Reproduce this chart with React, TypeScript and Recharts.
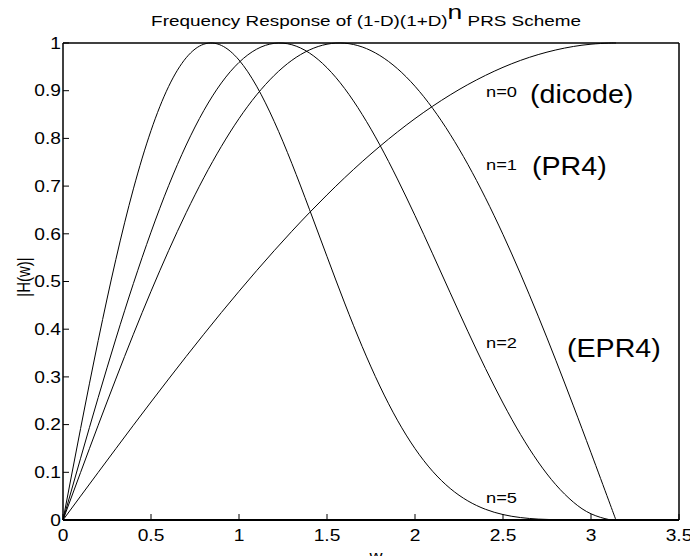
import React from 'react';
import { LineChart, Line, XAxis, YAxis } from 'recharts';

// frequency samples (rad), last point is pi
const wValues = [0, 0.1, 0.2, 0.3, 0.4, 0.5, 0.6, 0.7, 0.8, 0.9, 1.0, 1.1, 1.2, 1.3, 1.4, 1.5, 1.6,
  1.7, 1.8, 1.9, 2.0, 2.1, 2.2, 2.3, 2.4, 2.5, 2.6, 2.7, 2.8, 2.9, 3.0, 3.1, 3.1416];

// normalised |H(w)|
const n0Values = [0, 0.05, 0.0998, 0.1494, 0.1987, 0.2474, 0.2955, 0.3429, 0.3894, 0.435, 0.4794,
  0.5227, 0.5646, 0.6052, 0.6442, 0.6816, 0.7174, 0.7513, 0.7833, 0.8134, 0.8415, 0.8674, 0.8912,
  0.9128, 0.932, 0.949, 0.9636, 0.9757, 0.9854, 0.9927, 0.9975, 0.9998, 1];
const n1Values = [0, 0.0998, 0.1987, 0.2955, 0.3894, 0.4794, 0.5646, 0.6442, 0.7174, 0.7833, 0.8415,
  0.8912, 0.932, 0.9636, 0.9854, 0.9975, 0.9996, 0.9917, 0.9738, 0.9463, 0.9093, 0.8632, 0.8085,
  0.7457, 0.6755, 0.5985, 0.5155, 0.4274, 0.335, 0.2392, 0.1411, 0.0416, 0];
const n2Values = [0, 0.1295, 0.2568, 0.3796, 0.4958, 0.6034, 0.7008, 0.7861, 0.8583, 0.9163, 0.9593,
  0.987, 0.9993, 0.9964, 0.9791, 0.9481, 0.9047, 0.8502, 0.7864, 0.715, 0.6382, 0.558, 0.4764,
  0.3957, 0.318, 0.2452, 0.1791, 0.1216, 0.074, 0.0374, 0.013, 0.0011, 0];
const n5Values = [0, 0.1919, 0.3762, 0.5458, 0.6942, 0.8163, 0.9087, 0.9691, 0.9975, 0.9949, 0.9643,
  0.9095, 0.8355, 0.7477, 0.6515, 0.5524, 0.455, 0.3635, 0.2809, 0.2093, 0.1497, 0.1022, 0.0661,
  0.0401, 0.0225, 0.0114, 0.0051, 0.0019, 0.0005, 0.0001, 0, 0, 0];

const xTicks = [0, 0.5, 1, 1.5, 2, 2.5, 3, 3.5];
const yTicks = [0, 0.1, 0.2, 0.3, 0.4, 0.5, 0.6, 0.7, 0.8, 0.9, 1];

const data = wValues.map((w, i) => ({
  w,
  n0: n0Values[i],
  n1: n1Values[i],
  n2: n2Values[i],
  n5: n5Values[i],
}));

const FONT = '"Liberation Sans", Arial, Helvetica, sans-serif';
const W = 690;
const H = 556;

// the original export is stretched sideways, so text gets a horizontal scale
const Label = ({ x, y, size, sx = 1.2, anchor = 'start', children }: any) => (
  <text
    transform={`translate(${x},${y}) scale(${sx},1)`}
    textAnchor={anchor}
    fontSize={size}
    fontFamily={FONT}
    fill="#000"
  >
    {children}
  </text>
);

const XTick = (props: any) => (
  <Label x={props.x} y={541} size={16} anchor="middle">{props.payload.value}</Label>
);

const YTick = (props: any) => (
  <Label x={61} y={props.y + 5.7} size={16} anchor="end">{props.payload.value}</Label>
);

export default function App() {
  return (
    <div style={{ position: 'absolute', left: 0, top: 0, width: W, height: H, background: '#fff' }}>
      <LineChart width={W} height={H} data={data} margin={{ top: 43, right: 11, bottom: 36, left: 63 }}>
        <XAxis
          xAxisId="b"
          dataKey="w"
          type="number"
          domain={[0, 3.5]}
          ticks={xTicks}
          mirror
          tickSize={6}
          tick={<XTick />}
          axisLine={{ stroke: '#000', strokeWidth: 2 }}
          tickLine={{ stroke: '#000' }}
        />
        <XAxis
          xAxisId="t"
          orientation="top"
          dataKey="w"
          type="number"
          domain={[0, 3.5]}
          ticks={xTicks}
          mirror
          tickSize={6}
          tick={false}
          axisLine={{ stroke: '#000', strokeWidth: 1.5 }}
          tickLine={{ stroke: '#000' }}
        />
        <YAxis
          yAxisId="l"
          type="number"
          domain={[0, 1]}
          ticks={yTicks}
          mirror
          tickSize={6}
          tick={<YTick />}
          axisLine={{ stroke: '#000', strokeWidth: 1.5 }}
          tickLine={{ stroke: '#000' }}
        />
        <YAxis
          yAxisId="r"
          orientation="right"
          type="number"
          domain={[0, 1]}
          ticks={yTicks}
          mirror
          tickSize={6}
          tick={false}
          axisLine={{ stroke: '#000', strokeWidth: 1.5 }}
          tickLine={{ stroke: '#000' }}
        />
        <Line xAxisId="b" yAxisId="l" type="natural" dataKey="n0" stroke="#000" strokeWidth={1} dot={false} activeDot={false} isAnimationActive={false} />
        <Line xAxisId="b" yAxisId="l" type="natural" dataKey="n1" stroke="#000" strokeWidth={1} dot={false} activeDot={false} isAnimationActive={false} />
        <Line xAxisId="b" yAxisId="l" type="natural" dataKey="n2" stroke="#000" strokeWidth={1} dot={false} activeDot={false} isAnimationActive={false} />
        <Line xAxisId="b" yAxisId="l" type="natural" dataKey="n5" stroke="#000" strokeWidth={1} dot={false} activeDot={false} isAnimationActive={false} />
      </LineChart>
      <svg width={W} height={H} style={{ position: 'absolute', left: 0, top: 0, pointerEvents: 'none' }}>
        <Label x={366} y={26} size={15} sx={1.26} anchor="middle">
          Frequency Response of (1-D)(1+D)
          <tspan fontSize={21} dy={-7}>n</tspan>
          <tspan fontSize={15} dy={7}> PRS Scheme</tspan>
        </Label>
        <Label x={376} y={561} size={15} anchor="middle">w</Label>
        <text
          transform="translate(30,277) rotate(-90) scale(1,1.2)"
          textAnchor="middle"
          fontSize={15}
          fontFamily={FONT}
          fill="#000"
        >
          |H(w)|
        </text>
        <Label x={486} y={97} size={15} sx={1.22}>n=0</Label>
        <Label x={530} y={102.5} size={26} sx={1.1}>(dicode)</Label>
        <Label x={486} y={170} size={15} sx={1.22}>n=1</Label>
        <Label x={532} y={175} size={26} sx={1.1}>(PR4)</Label>
        <Label x={486} y={348} size={15} sx={1.22}>n=2</Label>
        <Label x={567} y={357} size={26} sx={1.1}>(EPR4)</Label>
        <Label x={486} y={503} size={15} sx={1.22}>n=5</Label>
      </svg>
    </div>
  );
}
